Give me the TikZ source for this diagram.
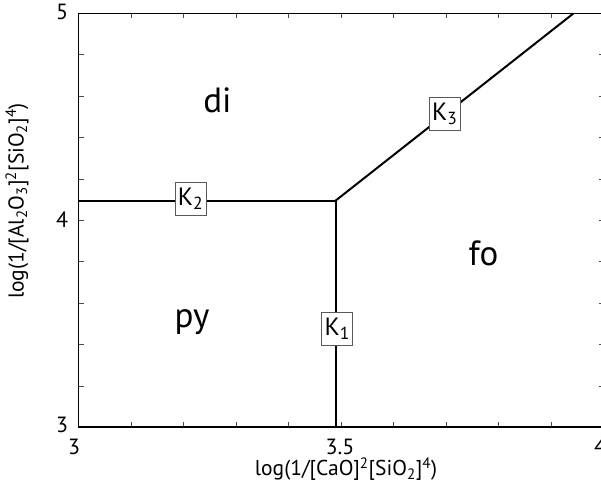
\documentclass[tikz,border=0pt]{standalone}
\usepackage{fontspec}
\setmainfont{PT Sans}
\begin{document}
\begin{tikzpicture}[x=1pt,y=-1pt,
  bnd/.style={line width=2pt,black},
  axisline/.style={line width=1.1pt,black},
  tickmark/.style={line width=0.8pt,black!70},
  kbox/.style={draw=black!65,line width=0.8pt,fill=white,minimum width=31pt,minimum height=33pt,inner sep=0pt,font=\fontsize{25}{27}\selectfont},
  region/.style={font=\fontsize{35}{37}\selectfont},
  ticklab/.style={font=\fontsize{22}{24}\selectfont},
  axlab/.style={font=\fontsize{21.5}{23}\selectfont}]
\useasboundingbox (0,0) rectangle (601,499);
\fill[white] (0,0) rectangle (601,499);
% axes frame
\coordinate (bl) at (78.5,427);
\coordinate (tr) at (603.8,13.3);
\foreach \i in {1,...,9}{
  \draw[tickmark] ({78.5+52.5*\i},427) -- ++(0,-5);
  \draw[tickmark] ({78.5+52.5*\i},13.3) -- ++(0,5);
  \draw[tickmark] (78.5,{13.3+41.4*\i}) -- ++(5,0);
  \draw[tickmark] (603.8,{13.3+41.4*\i}) -- ++(-5,0);
}
\draw[axisline] (bl) rectangle (tr);
% tick labels
\node[ticklab] (y5) at (62,12) {5};
\node[ticklab] (y4) at (62,220) {4};
\node[ticklab] (y3) at (62,425) {3};
\node[ticklab] (x3) at (74,447) {3};
\node[ticklab] (x35) at (340,447) {3.5};
\node[ticklab] (x4) at (600,447) {4};
% axis labels
\node[axlab] (xlab) at (346,469) {log(1/[CaO]\textsuperscript{2}[SiO\textsubscript{2}]\textsuperscript{4})};
\node[axlab,rotate=90] (ylab) at (17,201) {log(1/[Al\textsubscript{2}O\textsubscript{3}]\textsuperscript{2}[SiO\textsubscript{2}]\textsuperscript{4})};
% phase boundaries
\coordinate (J) at (335.75,200.5);
\coordinate (L) at (78.5,200.5);
\coordinate (B) at (335.75,427);
\coordinate (T) at (573.6,13.3);
\draw[bnd] (L) -- (J);
\draw[bnd] (J) -- (B);
\draw[bnd] (J) -- (T);
% reaction labels
\node[kbox] (k2) at (190.5,198.5) {K\textsubscript{2}};
\node[kbox] (k1) at (337.3,329) {K\textsubscript{1}};
\node[kbox] (k3) at (444.7,113.7) {K\textsubscript{3}};
% phase fields
\node[region] (di) at (217.5,100) {di};
\node[region] (py) at (192,322) {py};
\node[region] (fo) at (483.5,253) {fo};
\end{tikzpicture}
\end{document}
